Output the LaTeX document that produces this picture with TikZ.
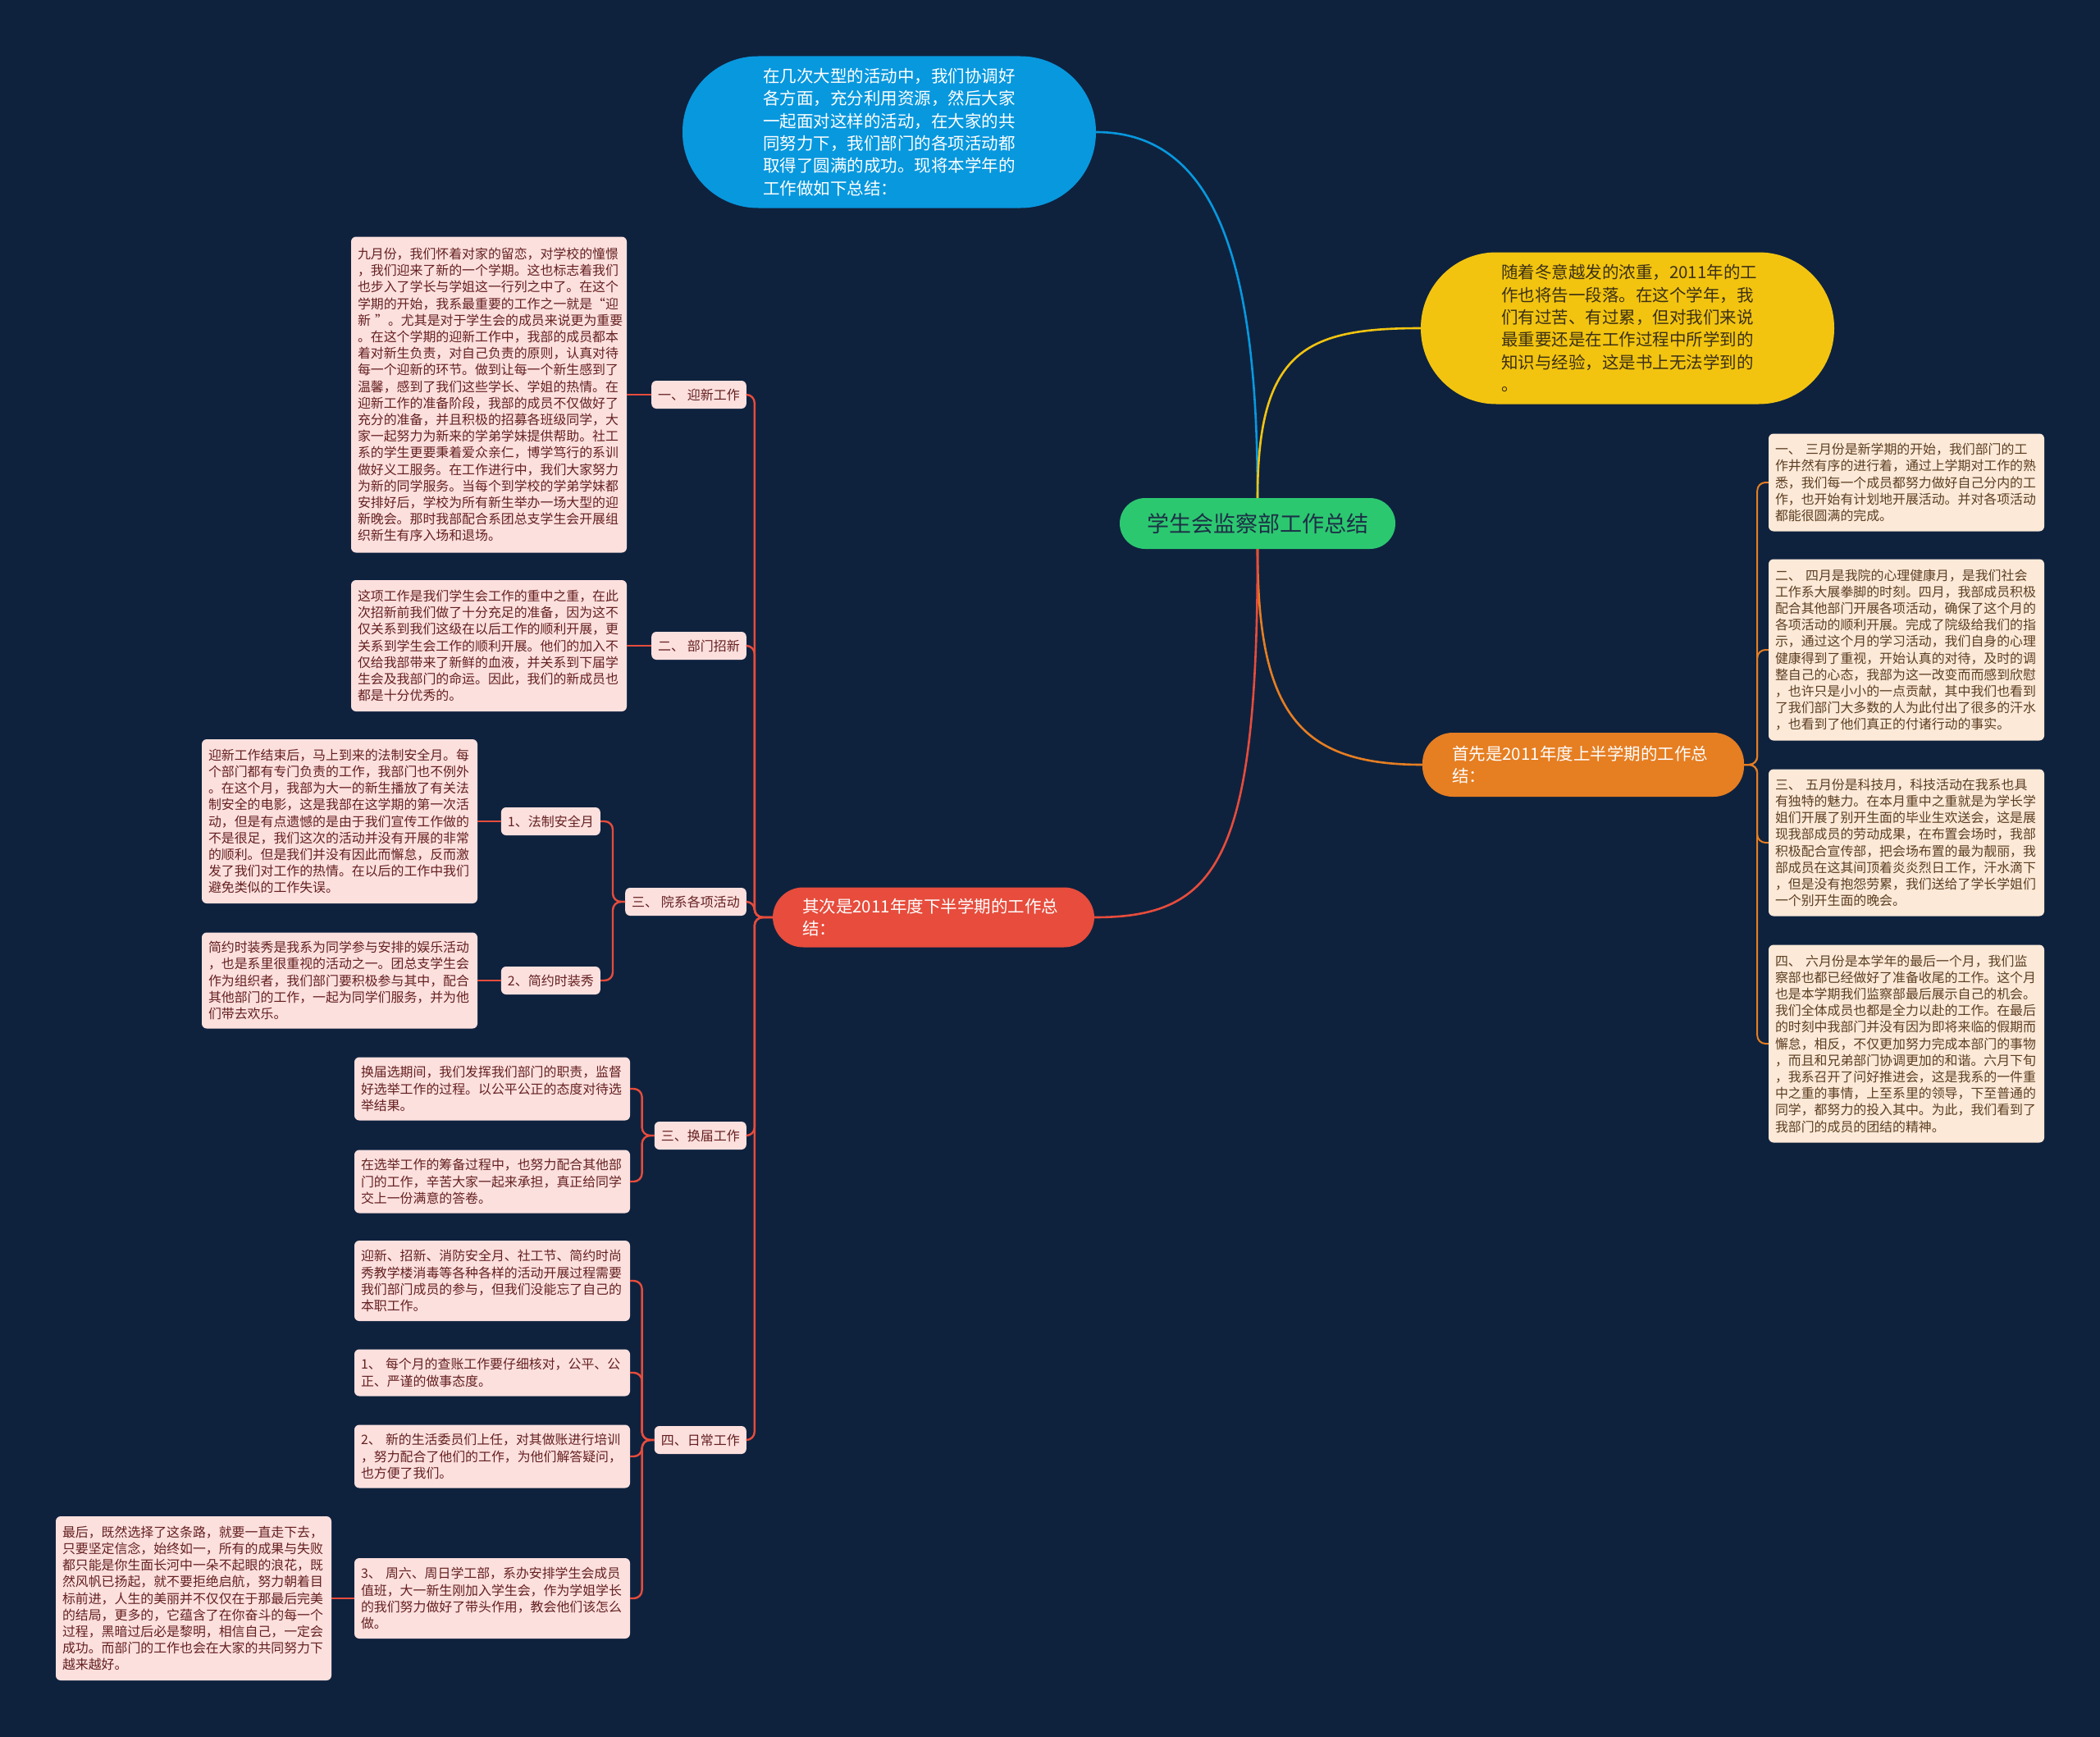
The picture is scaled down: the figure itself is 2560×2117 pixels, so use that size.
\documentclass[tikz,border=0pt]{standalone}
\usepackage{fontspec}
\usepackage{tikz}
\usetikzlibrary{positioning}
\newfontfamily\cjk{Noto Sans CJK SC}
\definecolor{NightBlue}{RGB}{14,34,62}
\definecolor{RootGreen}{RGB}{44,200,112}
\definecolor{RootInk}{RGB}{28,48,70}
\definecolor{SkyBlue}{RGB}{8,152,222}
\definecolor{SunYellow}{RGB}{242,196,16}
\definecolor{SunInk}{RGB}{60,48,20}
\definecolor{TermOrange}{RGB}{230,126,34}
\definecolor{TermRed}{RGB}{231,76,60}
\definecolor{SoftPink}{RGB}{252,224,222}
\definecolor{PinkInk}{RGB}{100,32,32}
\definecolor{SoftCream}{RGB}{252,233,216}
\definecolor{CreamInk}{RGB}{92,62,34}
\tikzset{
  rootnode/.style={fill=RootGreen,text=RootInk,rounded corners=31pt,
    minimum width=336pt,minimum height=62pt,inner sep=0pt,
    font=\cjk\fontsize{27}{32}\selectfont},
  bignote/.style={rounded corners=92pt,minimum width=504pt,minimum height=185pt,
    text width=308pt,align=left,font=\cjk\fontsize{20.5}{27.3}\selectfont},
  termnode/.style={rounded corners=37pt,text width=320pt,inner xsep=36pt,
    align=left,text=white,font=\cjk\fontsize{20.5}{27.3}\selectfont},
  tagbox/.style={fill=SoftPink,text=PinkInk,rounded corners=6pt,
    minimum height=34pt,inner xsep=8pt,inner ysep=0pt,
    font=\cjk\fontsize{16}{20}\selectfont},
  pinksheet/.style={fill=SoftPink,text=PinkInk,rounded corners=6pt,
    text width=320pt,inner xsep=8pt,align=left,
    font=\cjk\fontsize{15.9}{20.2}\selectfont},
  creamsheet/.style={fill=SoftCream,text=CreamInk,rounded corners=6pt,
    text width=320pt,inner xsep=8pt,align=left,
    font=\cjk\fontsize{15.9}{20.2}\selectfont},
  mainlink/.style={line width=2.6pt},
  redlink/.style={draw=TermRed,line width=2.4pt,rounded corners=10pt},
  orangelink/.style={draw=TermOrange,line width=2pt,rounded corners=10pt}
}
\begin{document}
\begin{tikzpicture}[x=1pt,y=-1pt]
\useasboundingbox (0,0) rectangle (2560,2117);
\fill[NightBlue] (0,0) rectangle (2560,2117);

\node[rootnode] (root) at (1533,638) {学生会监察部工作总结};

\node[bignote,fill=SkyBlue,text=white] (intro) at (1084,161)
  {在几次大型的活动中，我们协调好\\各方面，充分利用资源，然后大家\\一起面对这样的活动，在大家的共\\同努力下，我们部门的各项活动都\\取得了圆满的成功。现将本学年的\\工作做如下总结：};
\node[bignote,fill=SunYellow,text=SunInk] (outro) at (1984,400)
  {随着冬意越发的浓重，2011年的工\\作也将告一段落。在这个学年，我\\们有过苦、有过累，但对我们来说\\最重要还是在工作过程中所学到的\\知识与经验，这是书上无法学到的\\。};
\node[termnode,fill=TermOrange,minimum height=78pt] (first) at (1930,932)
  {首先是2011年度上半学期的工作总\\结：};
\node[termnode,fill=TermRed,minimum height=73pt] (second) at (1138,1118)
  {其次是2011年度下半学期的工作总\\结：};

\draw[mainlink,SkyBlue] (root.north) .. controls +(0,-277) and +(150,0) .. (intro.east);
\draw[mainlink,SunYellow] (root.north) .. controls +(0,-180) and +(-140,0) .. (outro.west);
\draw[mainlink,TermOrange] (root.south) .. controls +(0,200) and +(-150,0) .. (first.west);
\draw[mainlink,TermRed] (root.south) .. controls +(0,380) and +(150,0) .. (second.east);

\node[creamsheet,minimum height=119pt] (march) at (2324,588)
  {一、 三月份是新学期的开始，我们部门的工\\作井然有序的进行着，通过上学期对工作的熟\\悉，我们每一个成员都努力做好自己分内的工\\作，也开始有计划地开展活动。并对各项活动\\都能很圆满的完成。};
\node[creamsheet,minimum height=221pt] (april) at (2324,792)
  {二、 四月是我院的心理健康月，是我们社会\\工作系大展拳脚的时刻。四月，我部成员积极\\配合其他部门开展各项活动，确保了这个月的\\各项活动的顺利开展。完成了院级给我们的指\\示，通过这个月的学习活动，我们自身的心理\\健康得到了重视，开始认真的对待，及时的调\\整自己的心态，我部为这一改变而而感到欣慰\\，也许只是小小的一点贡献，其中我们也看到\\了我们部门大多数的人为此付出了很多的汗水\\，也看到了他们真正的付诸行动的事实。};
\node[creamsheet,minimum height=179pt] (may) at (2324,1027)
  {三、 五月份是科技月，科技活动在我系也具\\有独特的魅力。在本月重中之重就是为学长学\\姐们开展了别开生面的毕业生欢送会，这是展\\现我部成员的劳动成果，在布置会场时，我部\\积极配合宣传部，把会场布置的最为靓丽，我\\部成员在这其间顶着炎炎烈日工作，汗水滴下\\，但是没有抱怨劳累，我们送给了学长学姐们\\一个别开生面的晚会。};
\node[creamsheet,minimum height=241pt] (june) at (2324,1272)
  {四、 六月份是本学年的最后一个月，我们监\\察部也都已经做好了准备收尾的工作。这个月\\也是本学期我们监察部最后展示自己的机会。\\我们全体成员也都是全力以赴的工作。在最后\\的时刻中我部门并没有因为即将来临的假期而\\懈怠，相反，不仅更加努力完成本部门的事物\\，而且和兄弟部门协调更加的和谐。六月下旬\\，我系召开了问好推进会，这是我系的一件重\\中之重的事情，上至系里的领导，下至普通的\\同学，都努力的投入其中。为此，我们看到了\\我部门的成员的团结的精神。};

\foreach \month in {march,april,may,june}
  \draw[orangelink] (first.east) -- ++(16,0) |- (\month.west);

\node[tagbox,anchor=east] (welcome) at (910,481) {一、 迎新工作};
\node[tagbox,anchor=east] (recruit) at (910,787) {二、 部门招新};
\node[tagbox,anchor=east] (events) at (910,1099) {三、 院系各项活动};
\node[tagbox,anchor=east] (election) at (910,1384) {三、换届工作};
\node[tagbox,anchor=east] (daily) at (910,1755) {四、日常工作};

\foreach \part in {welcome,recruit,events,election,daily}
  \draw[redlink] (second.west) -- ++(-22,0) |- (\part.east);

\node[pinksheet,minimum height=385pt] (welcometext) at (596,481)
  {九月份，我们怀着对家的留恋，对学校的憧憬\\，我们迎来了新的一个学期。这也标志着我们\\也步入了学长与学姐这一行列之中了。在这个\\学期的开始，我系最重要的工作之一就是“迎\\新~”。尤其是对于学生会的成员来说更为重要\\。在这个学期的迎新工作中，我部的成员都本\\着对新生负责，对自己负责的原则，认真对待\\每一个迎新的环节。做到让每一个新生感到了\\温馨，感到了我们这些学长、学姐的热情。在\\迎新工作的准备阶段，我部的成员不仅做好了\\充分的准备，并且积极的招募各班级同学，大\\家一起努力为新来的学弟学妹提供帮助。社工\\系的学生更要秉着爱众亲仁，博学笃行的系训\\做好义工服务。在工作进行中，我们大家努力\\为新的同学服务。当每个到学校的学弟学妹都\\安排好后，学校为所有新生举办一场大型的迎\\新晚会。那时我部配合系团总支学生会开展组\\织新生有序入场和退场。};
\node[pinksheet,minimum height=160pt] (recruittext) at (596,787)
  {这项工作是我们学生会工作的重中之重，在此\\次招新前我们做了十分充足的准备，因为这不\\仅关系到我们这级在以后工作的顺利开展，更\\关系到学生会工作的顺利开展。他们的加入不\\仅给我部带来了新鲜的血液，并关系到下届学\\生会及我部门的命运。因此，我们的新成员也\\都是十分优秀的。};
\draw[redlink] (welcome.west) -- (welcometext.east);
\draw[redlink] (recruit.west) -- (recruittext.east);

\node[tagbox,anchor=east] (lawmonth) at (732,1001) {1、法制安全月};
\node[tagbox,anchor=east] (fashion) at (732,1195) {2、简约时装秀};
\foreach \part in {lawmonth,fashion}
  \draw[redlink] (events.west) -- ++(-15,0) |- (\part.east);

\node[pinksheet,minimum height=200pt] (lawtext) at (414,1001)
  {迎新工作结束后，马上到来的法制安全月。每\\个部门都有专门负责的工作，我部门也不例外\\。在这个月，我部为大一的新生播放了有关法\\制安全的电影，这是我部在这学期的第一次活\\动，但是有点遗憾的是由于我们宣传工作做的\\不是很足，我们这次的活动并没有开展的非常\\的顺利。但是我们并没有因此而懈怠，反而激\\发了我们对工作的热情。在以后的工作中我们\\避免类似的工作失误。};
\node[pinksheet,minimum height=117pt] (fashiontext) at (414,1195)
  {简约时装秀是我系为同学参与安排的娱乐活动\\，也是系里很重视的活动之一。团总支学生会\\作为组织者，我们部门要积极参与其中，配合\\其他部门的工作，一起为同学们服务，并为他\\们带去欢乐。};
\draw[redlink] (lawmonth.west) -- (lawtext.east);
\draw[redlink] (fashion.west) -- (fashiontext.east);

\node[pinksheet,minimum height=77pt] (vote) at (600,1327)
  {换届选期间，我们发挥我们部门的职责，监督\\好选举工作的过程。以公平公正的态度对待选\\举结果。};
\node[pinksheet,minimum height=77pt] (prepare) at (600,1440)
  {在选举工作的筹备过程中，也努力配合其他部\\门的工作，辛苦大家一起来承担，真正给同学\\交上一份满意的答卷。};
\foreach \part in {vote,prepare}
  \draw[redlink] (election.west) -- ++(-15,0) |- (\part.east);

\node[pinksheet,minimum height=98pt] (duty) at (600,1561)
  {迎新、招新、消防安全月、社工节、简约时尚\\秀教学楼消毒等各种各样的活动开展过程需要\\我们部门成员的参与，但我们没能忘了自己的\\本职工作。};
\node[pinksheet,minimum height=57pt] (audit) at (600,1673)
  {1、 每个月的查账工作要仔细核对，公平、公\\正、严谨的做事态度。};
\node[pinksheet,minimum height=77pt] (training) at (600,1775)
  {2、 新的生活委员们上任，对其做账进行培训\\，努力配合了他们的工作，为他们解答疑问，\\也方便了我们。};
\node[pinksheet,minimum height=98pt] (weekend) at (600,1948)
  {3、 周六、周日学工部，系办安排学生会成员\\值班，大一新生刚加入学生会，作为学姐学长\\的我们努力做好了带头作用，教会他们该怎么\\做。};
\foreach \part in {duty,audit,training,weekend}
  \draw[redlink] (daily.west) -- ++(-15,0) |- (\part.east);

\node[pinksheet,minimum height=200pt] (closing) at (236,1948)
  {最后，既然选择了这条路，就要一直走下去，\\只要坚定信念，始终如一，所有的成果与失败\\都只能是你生面长河中一朵不起眼的浪花，既\\然风帆已扬起，就不要拒绝启航，努力朝着目\\标前进，人生的美丽并不仅仅在于那最后完美\\的结局，更多的，它蕴含了在你奋斗的每一个\\过程，黑暗过后必是黎明，相信自己，一定会\\成功。而部门的工作也会在大家的共同努力下\\越来越好。};
\draw[redlink] (weekend.west) -- (closing.east);
\end{tikzpicture}
\end{document}
